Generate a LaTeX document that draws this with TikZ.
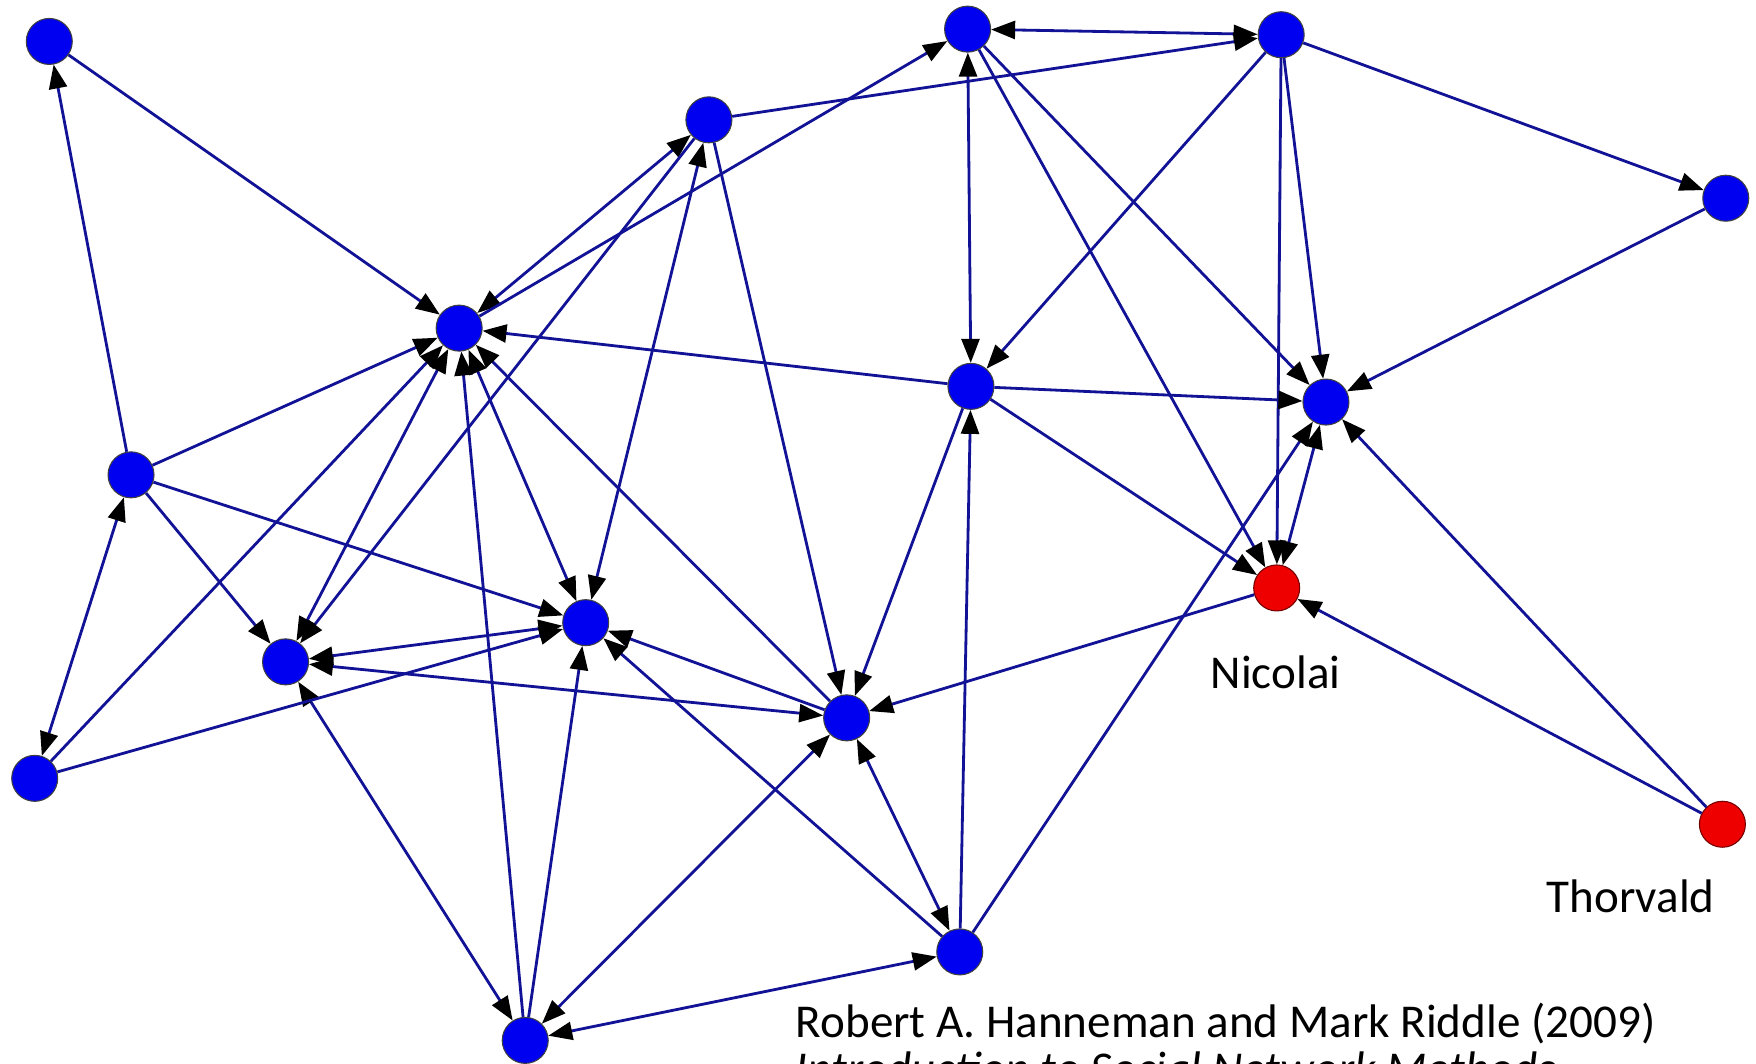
\documentclass[tikz,border=0pt]{standalone}
\usepackage{fontspec}
\setmainfont{Carlito}
\usepackage{tikz}
\usetikzlibrary{arrows.meta}

\definecolor{tieblue}{RGB}{18,18,150}
\definecolor{vblue}{RGB}{0,0,240}
\definecolor{vred}{RGB}{238,0,0}

\begin{document}
\begin{tikzpicture}[x=0.112mm, y=-0.112mm, >={Triangle[length=2.4mm, width=1.8mm, color=black]}]
		\tikzstyle{Vertex}	= [circle, draw=black!75, line width=0.3pt, fill=vblue, minimum size=4.6mm, inner sep=0pt]
		\tikzstyle{Marked}	= [Vertex, draw=red!45!black, fill=vred]
		\tikzstyle{Tie}		= [tieblue, line width=0.8pt]
		\tikzstyle{Name}	= [font=\fontsize{13.4}{16}\selectfont, inner sep=0pt]

		\clip (0,0) rectangle (1568,950);
		\fill [white] (0,0) rectangle (1568,950);

		% actors
		\node (v0) at (44,37) [Vertex] {};
		\node (v1) at (864,26) [Vertex] {};
		\node (v2) at (1144,31) [Vertex] {};
		\node (v3) at (633,107) [Vertex] {};
		\node (v4) at (1541,177) [Vertex] {};
		\node (v5) at (410,293) [Vertex] {};
		\node (v6) at (867,345) [Vertex] {};
		\node (v7) at (1184,359) [Vertex] {};
		\node (v8) at (117,424) [Vertex] {};
		\node (v9) at (1140,525) [Marked] {};
		\node (v10) at (523,556) [Vertex] {};
		\node (v11) at (255,591) [Vertex] {};
		\node (v12) at (756,641) [Vertex] {};
		\node (v13) at (31,695) [Vertex] {};
		\node (v14) at (1538,736) [Marked] {};
		\node (v15) at (857,850) [Vertex] {};
		\node (v16) at (469,929) [Vertex] {};

		% ties
		\draw [->] (v0) to (v5) [Tie];
		\draw [->] (v8) to (v0) [Tie];
		\draw [<->] (v1) to (v2) [Tie];
		\draw [<->] (v1) to (v6) [Tie];
		\draw [->] (v1) to (v7) [Tie];
		\draw [->] (v1) to (v9) [Tie];
		\draw [->] (v2) to (v4) [Tie];
		\draw [->] (v2) to (v6) [Tie];
		\draw [->] (v2) to (v7) [Tie];
		\draw [->] (v2) to (v9) [Tie];
		\draw [->] (v3) to (v2) [Tie];
		\draw [<->] (v3) to (v5) [Tie];
		\draw [<->] (v3) to (v10) [Tie];
		\draw [->] (v3) to (v11) [Tie];
		\draw [->] (v3) to (v12) [Tie];
		\draw [->] (v4) to (v7) [Tie];
		\draw [->] (v5) to (v1) [Tie];
		\draw [<->] (v5) to (v10) [Tie];
		\draw [<->] (v5) to (v11) [Tie];
		\draw [->] (v6) to (v5) [Tie];
		\draw [->] (v6) to (v7) [Tie];
		\draw [->] (v6) to (v9) [Tie];
		\draw [->] (v6) to (v12) [Tie];
		\draw [<->] (v7) to (v9) [Tie];
		\draw [->] (v8) to (v5) [Tie];
		\draw [->] (v8) to (v10) [Tie];
		\draw [->] (v8) to (v11) [Tie];
		\draw [<->] (v8) to (v13) [Tie];
		\draw [->] (v9) to (v12) [Tie];
		\draw [<->] (v11) to (v10) [Tie];
		\draw [<->] (v11) to (v12) [Tie];
		\draw [<->] (v11) to (v16) [Tie];
		\draw [->] (v12) to (v5) [Tie];
		\draw [->] (v12) to (v10) [Tie];
		\draw [<->] (v12) to (v15) [Tie];
		\draw [<->] (v12) to (v16) [Tie];
		\draw [->] (v13) to (v5) [Tie];
		\draw [->] (v13) to (v10) [Tie];
		\draw [->] (v14) to (v7) [Tie];
		\draw [->] (v14) to (v9) [Tie];
		\draw [->] (v15) to (v6) [Tie];
		\draw [->] (v15) to (v7) [Tie];
		\draw [->] (v15) to (v10) [Tie];
		\draw [<->] (v15) to (v16) [Tie];
		\draw [->] (v16) to (v5) [Tie];
		\draw [->] (v16) to (v10) [Tie];

		% labels
		\node (n9) at (1139,600) [Name] {Nicolai};
		\node (n14) at (1456,800) [Name] {Thorvald};
		\node (src) at (710,926) [Name, anchor=base west] {Robert A. Hanneman and Mark Riddle (2009)};
		\node (book) at (710,968) [Name, anchor=base west] {\itshape Introduction to Social Network Methods};
	\end{tikzpicture}
\end{document}
